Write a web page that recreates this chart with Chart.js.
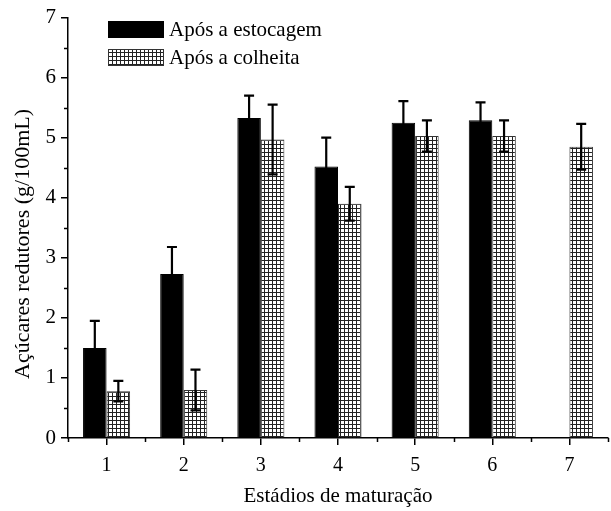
<!DOCTYPE html>
<html lang="pt">
<head>
  <meta charset="UTF-8">
  <title>Açúcares redutores</title>
  <script src="https://cdn.jsdelivr.net/npm/chart.js"></script>
  <style>
    body { margin: 0; background: #fff; }
    #wrap { width: 611px; height: 511px; }
  </style>
</head>
<body>
  <div id="wrap"><canvas id="chart" width="611" height="511"></canvas></div>

  <script>
    const stages = ['1', '2', '3', '4', '5', '6', '7'];
    const storedLabel = 'Após a estocagem';
    const harvestLabel = 'Após a colheita';
    const yTitle = 'Açúcares redutores (g/100mL)';
    const storedValues = [1.50, 2.73, 5.33, 4.52, 5.25, 5.29, null];
    const storedErrors = [0.45, 0.45, 0.37, 0.48, 0.36, 0.30, null];
    const harvestValues = [0.78, 0.80, 4.97, 3.90, 5.03, 5.03, 4.85];
    const harvestErrors = [0.17, 0.34, 0.58, 0.28, 0.26, 0.26, 0.38];
    const yTicks = [0, 1, 2, 3, 4, 5, 6, 7];

    const FONT = '"Liberation Serif", "Times New Roman", serif';

    // grid hatch for the second series
    function makeHatch() {
      const c = document.createElement('canvas');
      c.width = 4; c.height = 4;
      const g = c.getContext('2d');
      g.fillStyle = '#fff';
      g.fillRect(0, 0, 4, 4);
      g.fillStyle = '#222';
      g.fillRect(0, 0, 4, 1);
      g.fillRect(0, 0, 1, 4);
      return g.createPattern(c, 'repeat');
    }
    const ctx = document.getElementById('chart').getContext('2d');
    const hatch = makeHatch();

    const errorBars = {
      id: 'errorBars',
      afterDatasetsDraw(chart) {
        const c = chart.ctx;
        const y = chart.scales.y;
        const errs = [storedErrors, harvestErrors];
        const vals = [storedValues, harvestValues];
        c.save();
        c.strokeStyle = '#000';
        c.lineWidth = 2.2;
        chart.data.datasets.forEach((ds, di) => {
          chart.getDatasetMeta(di).data.forEach((bar, i) => {
            const v = vals[di][i], e = errs[di][i];
            if (v == null || e == null) return;
            const top = y.getPixelForValue(v + e);
            const bot = y.getPixelForValue(v - e);
            c.beginPath();
            c.moveTo(bar.x, top); c.lineTo(bar.x, bot);
            c.moveTo(bar.x - 5, top); c.lineTo(bar.x + 5, top);
            if (di === 1) { c.moveTo(bar.x - 5, bot); c.lineTo(bar.x + 5, bot); }
            c.stroke();
          });
        });
        c.restore();
      }
    };

    const axesExtras = {
      id: 'axesExtras',
      afterDraw(chart) {
        const c = chart.ctx;
        const x = chart.scales.x, y = chart.scales.y;
        const area = chart.chartArea;
        c.save();
        c.strokeStyle = '#000';
        c.lineWidth = 1.5;
        c.beginPath();
        // minor y ticks at half units
        for (let i = 0; i < yTicks.length - 1; i++) {
          const py = Math.round(y.getPixelForValue(yTicks[i] + 0.5)) + 0.5;
          c.moveTo(area.left, py); c.lineTo(area.left - 4, py);
        }
        // minor x ticks between categories
        for (let i = 0; i <= stages.length; i++) {
          const px = Math.round(x.getPixelForValue(i - 0.5)) + 0.5;
          c.moveTo(px, area.bottom); c.lineTo(px, area.bottom + 4);
        }
        c.stroke();

        // y title sits a bit below the axis centre in the original
        c.save();
        c.translate(23, 244);
        c.rotate(-Math.PI / 2);
        c.fillStyle = '#000';
        c.font = '22px ' + FONT;
        c.textAlign = 'center';
        c.textBaseline = 'middle';
        c.fillText(yTitle, 0, 0);
        c.restore();

        // legend
        c.fillStyle = '#000';
        c.fillRect(108, 21, 56, 17);
        c.fillStyle = hatch;
        c.fillRect(108, 49, 56, 17);
        c.strokeStyle = '#333';
        c.lineWidth = 1;
        c.strokeRect(108.5, 49.5, 55, 16);
        c.fillStyle = '#000';
        c.font = '21px ' + FONT;
        c.textBaseline = 'middle';
        c.fillText(storedLabel, 169, 30);
        c.fillText(harvestLabel, 169, 58);
        c.restore();
      }
    };

    new Chart(ctx, {
      type: 'bar',
      data: {
        labels: stages,
        datasets: [
          {
            label: storedLabel,
            data: storedValues,
            backgroundColor: '#000',
            borderColor: '#000',
            borderWidth: 1
          },
          {
            label: harvestLabel,
            data: harvestValues,
            backgroundColor: hatch,
            borderColor: '#333',
            borderWidth: 1
          }
        ]
      },
      options: {
        responsive: false,
        animation: false,
        devicePixelRatio: 1,
        layout: { padding: { top: 17, right: 3, left: 0, bottom: 0 } },
        categoryPercentage: 0.61,
        barPercentage: 1,
        plugins: {
          legend: { display: false },
          tooltip: { enabled: false }
        },
        scales: {
          x: {
            grid: {
              offset: false,
              drawOnChartArea: false,
              drawTicks: true,
              tickLength: 7,
              color: '#000',
              lineWidth: 1.5
            },
            border: { color: '#000', width: 1.5 },
            ticks: {
              color: '#000',
              padding: 9,
              font: { family: FONT, size: 20 }
            },
            title: {
              display: true,
              text: 'Estádios de maturação',
              color: '#000',
              padding: { top: 4, bottom: 2 },
              font: { family: FONT, size: 21 }
            },
            afterFit(scale) { scale.height = 73; }
          },
          y: {
            min: 0,
            max: 7,
            afterBuildTicks(scale) { scale.ticks = yTicks.map(v => ({ value: v })); },
            grid: {
              drawOnChartArea: false,
              drawTicks: true,
              tickLength: 7,
              color: '#000',
              lineWidth: 1.5
            },
            border: { color: '#000', width: 1.5 },
            ticks: {
              color: '#000',
              padding: 5,
              font: { family: FONT, size: 21 }
            },
            title: { display: false },
            afterFit(scale) { scale.width = 68; }
          }
        }
      },
      plugins: [errorBars, axesExtras]
    });
  </script>
</body>
</html>
